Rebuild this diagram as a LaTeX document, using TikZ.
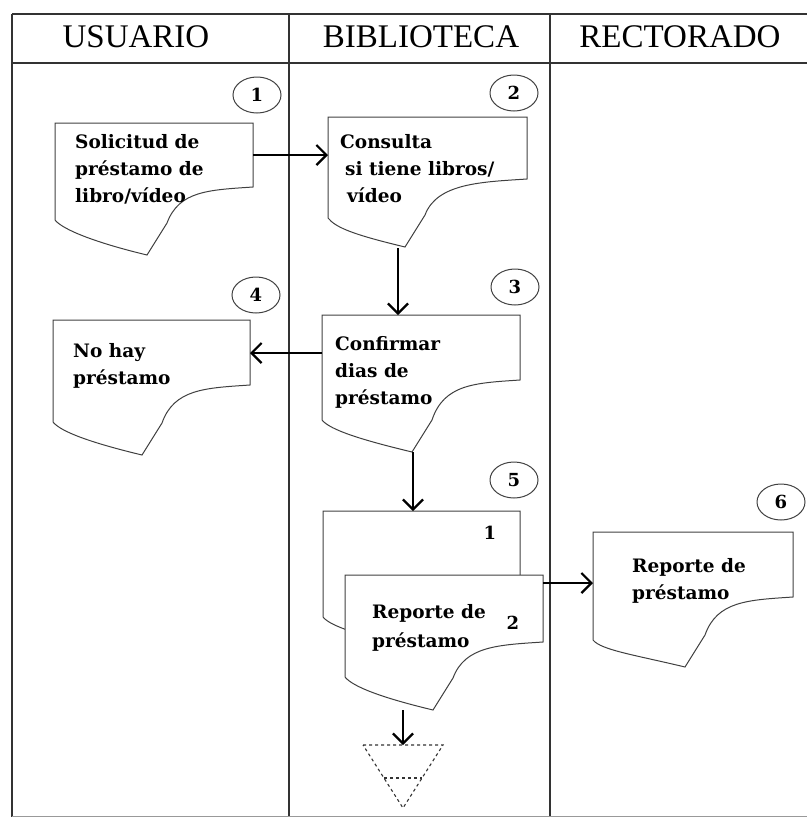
\documentclass[tikz,border=0pt]{standalone}
\usepackage{fontspec}
\setmainfont{Liberation Serif}
\newfontfamily\docfont{DejaVu Serif}
\usetikzlibrary{arrows.meta,shapes.geometric}
\newcommand\docshp[8][]{%
  \draw[docline,#1] (#2,#3) -- (#4,#3) -- (#4,#5)
    .. controls ({#4-45},{#5+3}) and ({#7+32},{#5+4}) .. ({#7+20},{#8-32})
    -- (#7,#8)
    .. controls ({#7-50},{#8-12}) and ({#2+8},{#6+10}) .. (#2,#6) -- cycle;}
\begin{document}
\begin{tikzpicture}[x=1pt,y=-1pt,
  frame/.style={line width=1.4pt,draw=black!80},
  docline/.style={line width=1pt,draw=black!75},
  head/.style={font=\fontsize{33}{36}\selectfont,anchor=center,inner sep=0pt},
  doctext/.style={font=\docfont\bfseries\fontsize{18.5}{27}\selectfont,align=left,anchor=north west,inner sep=0pt},
  numtxt/.style={font=\docfont\bfseries\fontsize{18}{18}\selectfont,inner sep=0pt},
  num/.style={draw=black!75,line width=1pt,ellipse,minimum width=48pt,minimum height=36pt,inner sep=0pt,font=\docfont\bfseries\fontsize{18}{18}\selectfont},
  flow/.style={line width=2.8pt,draw=black,-{Straight Barb[length=10pt,width=20pt,line width=2.2pt]}}]
\useasboundingbox (0,0) rectangle (807,817);
% swimlane frame
\draw[frame] (12,14) -- (807,14);
\draw[frame] (12,63) -- (807,63);
\draw[frame] (12,14) -- (12,817);
\draw[frame] (289,14) -- (289,817);
\draw[frame] (550,14) -- (550,817);
\draw[line width=0.8pt,draw=black!40] (12,816) -- (807,816);
\node[head] (hu) at (136,37) {USUARIO};
\node[head] (hb) at (421,37) {BIBLIOTECA};
\node[head] (hr) at (680,37) {RECTORADO};
% number circles
\node[num] (c1) at (257,95) {1};
\node[num] (c2) at (514,93) {2};
\node[num] (c3) at (515,287) {3};
\node[num] (c4) at (256,295) {4};
\node[num] (c5) at (514,480) {5};
\node[num] (c6) at (781,502) {6};
% documents
\docshp{55}{123}{253}{187}{220}{147}{255}
\docshp{328}{117}{527}{179}{218}{405}{247}
\docshp{322}{315}{520}{380}{420}{412}{452}
\docshp{53}{320}{250}{385}{422}{142}{455}
\docshp{323}{511}{520}{600}{617}{413}{648}
\docshp[fill=white]{345}{575}{543}{642}{677}{433}{710}
\docshp{593}{532}{793}{597}{640}{685}{667}
% texts
\node[doctext] (t1) at (75,134) {Solicitud de\\préstamo de\\libro/vídeo};
\node[doctext] (t2) at (340,134) {Consulta\\\hspace*{5pt}si tiene libros/\\\hspace*{7pt}vídeo};
\node[doctext] (t3) at (335,336) {Confirmar\\dias de\\préstamo};
\node[doctext] (t4) at (73,343) {No hay\\préstamo};
\node[doctext,font=\docfont\bfseries\fontsize{18.5}{29}\selectfont] (t5) at (372,604) {Reporte de\\préstamo};
\node[doctext] (t6) at (632,558) {Reporte de\\préstamo};
\node[numtxt] (n51) at (490,533) {1};
\node[numtxt] (n52) at (513,623) {2};
% archive triangle
\coordinate (trl) at (363,745);
\coordinate (trr) at (443,745);
\coordinate (trb) at (403,808);
\draw[line width=1.1pt,draw=black!80,dashed] (trl) -- (trr) -- (trb) -- cycle;
\draw[line width=1.1pt,draw=black!80,dashed] (384,778) -- (422,778);
% connector end points
\coordinate (d1r) at (253,155);
\coordinate (d2l) at (328,155);
\coordinate (d2b) at (398,248);
\coordinate (d3t) at (398,315);
\coordinate (d3l) at (322,353);
\coordinate (d4r) at (250,353);
\coordinate (d3b) at (413,452);
\coordinate (d5t) at (413,511);
\coordinate (d5r) at (543,583);
\coordinate (d6l) at (593,583);
\coordinate (d5b) at (403,710);
\coordinate (trt) at (403,745);
% connectors
\draw[flow] (d1r) -- (d2l);
\draw[flow] (d2b) -- (d3t);
\draw[flow] (d3l) -- (d4r);
\draw[flow] (d3b) -- (d5t);
\draw[flow,line width=1.8pt] (d5r) -- (d6l);
\draw[flow] (d5b) -- (trt);
\end{tikzpicture}
\end{document}
